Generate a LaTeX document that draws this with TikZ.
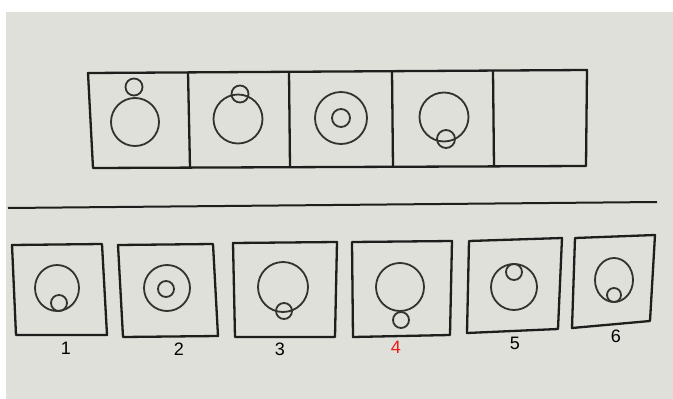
\documentclass[tikz,border=0pt]{standalone}
\usepackage{fontspec}
\setmainfont{Liberation Sans}
\definecolor{paper}{RGB}{222,224,217}
\definecolor{ink}{RGB}{30,30,28}
\definecolor{cink}{RGB}{50,50,47}
\definecolor{answer}{RGB}{235,25,25}
\tikzset{
  frame/.style={draw=ink,line width=2.3pt,line join=round},
  ring/.style={draw=cink,line width=1.8pt},
  lab/.style={font=\fontsize{18}{18}\selectfont,text=black,inner sep=0pt},
}
\begin{document}
\begin{tikzpicture}[x=1pt,y=-1pt]
\useasboundingbox (0,0) rectangle (673,399);
\fill[white] (0,0) rectangle (673,399);
\fill[paper] (6,12) rectangle (673,399);
% top strip
\coordinate (tTL) at (88,73);
\coordinate (tTR) at (587,70);
\coordinate (tBR) at (586,166);
\coordinate (tBL) at (93,168);
\draw[frame] (tTL) -- (tTR) -- (tBR) -- (tBL) -- cycle;
\foreach \a/\b [count=\i] in {188/190,289/290,392/393,493/494}{
  \draw[frame] ({\a},{72.5-0.006*(\a-88)}) -- ({\b},{168-0.004*(\b-93)});
}
% top circles
\draw[ring] (135,122) circle (24);
\draw[ring] (134,87) circle (8.5);
\draw[ring] (238,119) circle (24.5);
\draw[ring] (240,94) circle (8.5);
\draw[ring] (341,118) circle (26);
\draw[ring] (341,118) circle (9);
\draw[ring] (444,117) circle (24.5);
\draw[ring] (446,139) circle (9);
% separator
\coordinate (sepL) at (8,208);
\coordinate (sepR) at (657,202);
\draw[ink,line width=2pt] (sepL) -- (sepR);
% answer boxes
\draw[frame] (12,245) -- (102,244) -- (107,335) -- (16,335) -- cycle;
\draw[frame] (118,245) -- (213,244) -- (218,336) -- (123,337) -- cycle;
\draw[frame] (233,243) -- (337,242) -- (335,337) -- (235,337) -- cycle;
\draw[frame] (352,242) -- (452,241) -- (450,335) -- (353,337) -- cycle;
\draw[frame] (469,241) -- (562,238) -- (558,329) -- (467,333) -- cycle;
\draw[frame] (575,238) -- (655,235) -- (650,321) -- (572,328) -- cycle;
% answer circles
\draw[ring] (57,288) ellipse (22 and 23);
\draw[ring] (59,303) circle (8);
\draw[ring] (167,288) circle (23);
\draw[ring] (166,289) circle (8);
\draw[ring] (283,287) circle (25);
\draw[ring] (284,311) circle (8);
\draw[ring] (400,287) circle (24);
\draw[ring] (401,320) circle (8);
\draw[ring] (514,287) circle (23);
\draw[ring] (514,272) circle (8);
\draw[ring] (614,280) ellipse (19 and 22);
\draw[ring] (614,295) circle (7);
% labels
\node[lab] (l1) at (66,348) {1};
\node[lab] (l2) at (179,349) {2};
\node[lab] (l3) at (280,349) {3};
\node[lab,text=answer] (l4) at (396,347) {4};
\node[lab] (l5) at (515,343) {5};
\node[lab] (l6) at (616,336) {6};
\end{tikzpicture}
\end{document}
